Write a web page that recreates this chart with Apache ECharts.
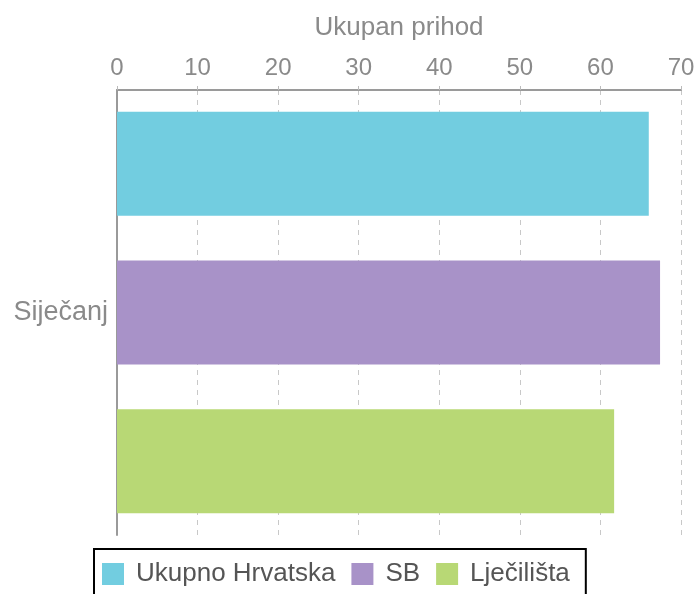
<!DOCTYPE html>
<html>
<head>
<meta charset="utf-8">
<script src="https://cdn.jsdelivr.net/npm/echarts@6/dist/echarts.min.js"></script>
<style>html,body{margin:0;padding:0;background:#fff}#c{width:698px;height:594px}</style>
</head>
<body>
<div id="c"></div>
<script>
const categories = ['Siječanj'];
const seriesNames = ['Ukupno Hrvatska', 'SB', 'Lječilišta'];
const ukupnoHrvatska = [66.0];
const sb = [67.4];
const ljecilista = [61.7];
const xTicks = [0, 10, 20, 30, 40, 50, 60, 70];

const colors = ['#72cde0', '#a892c8', '#b8d875'];
const font = 'Liberation Sans, Arial, sans-serif';
const chart = echarts.init(document.getElementById('c'));
const values = [ukupnoHrvatska, sb, ljecilista];
chart.setOption({
  animation: false,
  textStyle: { fontFamily: font },
  grid: { left: 117, right: 17, top: 90, bottom: 59, containLabel: false },
  xAxis: {
    type: 'value', position: 'top',
    min: xTicks[0], max: xTicks[xTicks.length - 1], interval: 10,
    name: 'Ukupan prihod', nameLocation: 'middle', nameGap: 49,
    nameTextStyle: { color: '#8a8a8a', fontSize: 26, fontFamily: font },
    axisLine: { show: true, lineStyle: { color: '#9a9a9a', width: 2 } },
    axisTick: { show: true, length: 4, lineStyle: { color: '#bbb' } },
    axisLabel: { color: '#8a8a8a', fontSize: 24, margin: 10, fontFamily: font },
    splitLine: { show: true, lineStyle: { color: '#c8c8c8', type: [5, 5], width: 1 } }
  },
  yAxis: {
    type: 'category', data: categories, inverse: true,
    axisLine: { show: true, lineStyle: { color: '#9a9a9a', width: 2 } },
    axisTick: { show: false },
    axisLabel: { color: '#8a8a8a', fontSize: 27, margin: 9, fontFamily: font }
  },
  legend: {
    left: 94, top: 549, width: 500,
    padding: [12, 16, 12, 8],
    borderColor: '#000', borderWidth: 2,
    itemWidth: 22, itemHeight: 22, itemGap: 16,
    icon: 'rect',
    textStyle: { color: '#555', fontSize: 26, fontFamily: font, padding: [0, 0, 0, 7] },
    data: seriesNames
  },
  series: seriesNames.map((n, i) => ({
    name: n, type: 'bar', data: values[i],
    barWidth: 104, barGap: '43%',
    itemStyle: { color: colors[i] }
  }))
});
</script>
</body>
</html>
